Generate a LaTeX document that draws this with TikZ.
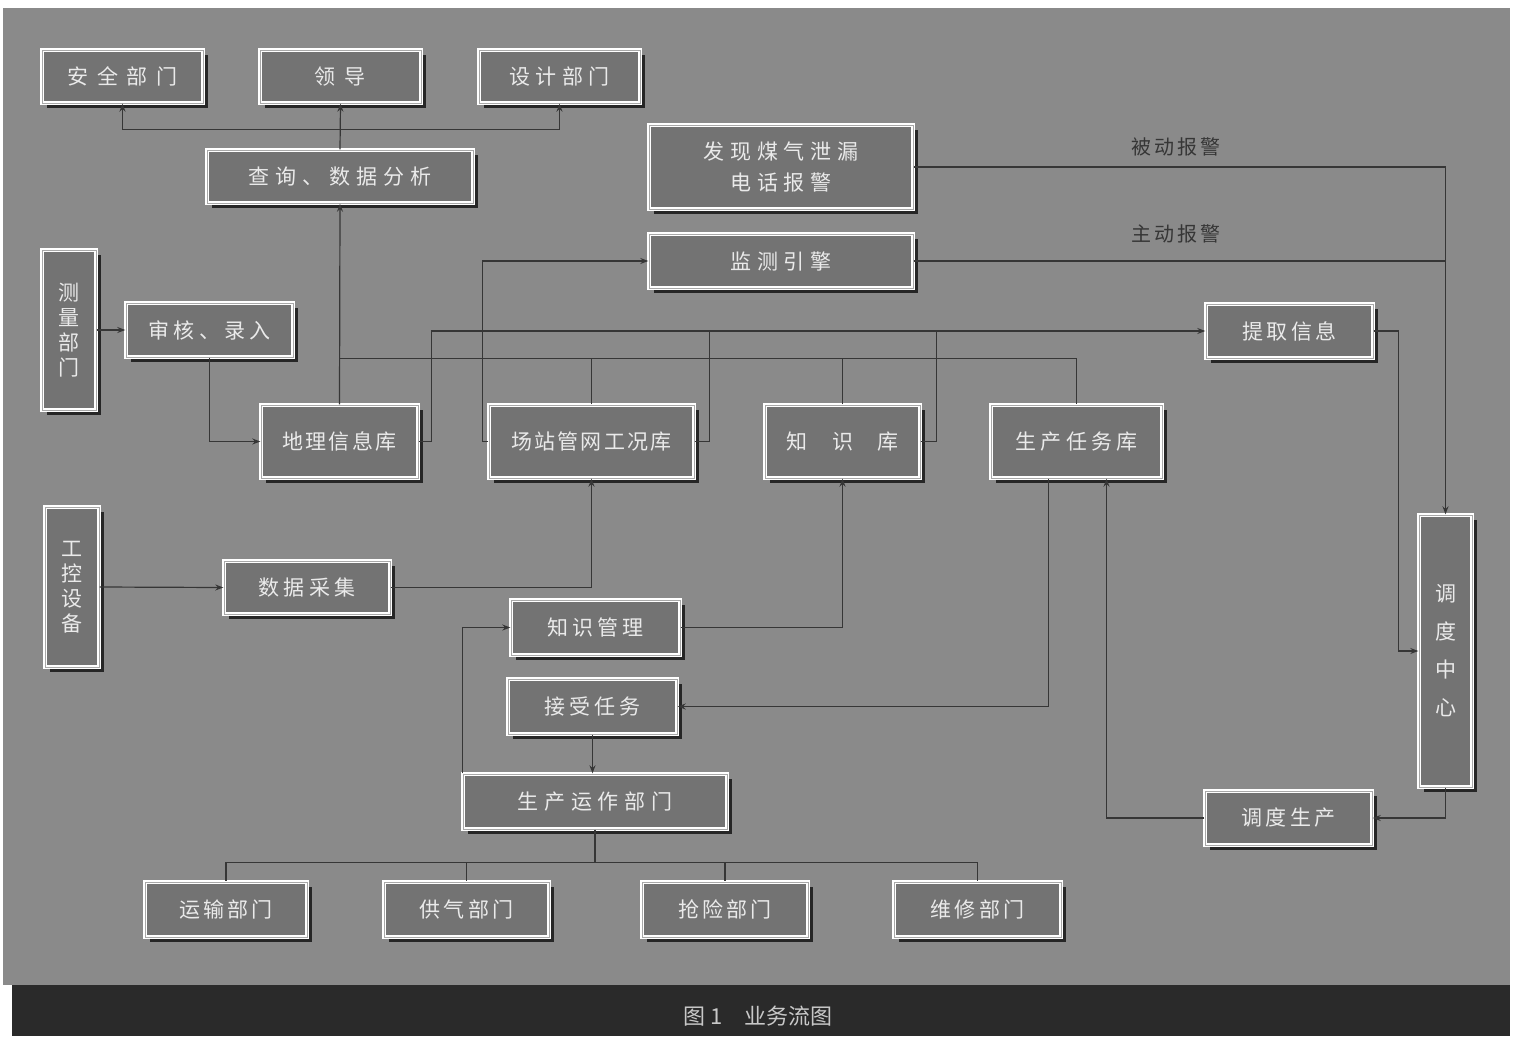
\documentclass[tikz,border=0pt]{standalone}
\usepackage{fontspec}
\newfontfamily\cjk{Noto Sans CJK SC}
\newcommand\ls[1]{\addfontfeature{LetterSpace=#1}}
\usetikzlibrary{arrows.meta,shadows,calc}
\definecolor{bggray}{HTML}{8A8A8A}
\definecolor{boxgray}{HTML}{737373}
\definecolor{boxtext}{HTML}{EAEAEA}
\definecolor{linegray}{HTML}{363636}
\definecolor{bardark}{HTML}{2A2A2A}
\definecolor{captext}{HTML}{C8C8C8}
\definecolor{bevel}{HTML}{A8A8A8}
\tikzset{
  box/.style={draw=white, line width=1.4pt, double=bevel, double distance=0.9pt,
    fill=boxgray, text=boxtext, inner sep=0pt,
    font=\cjk\fontsize{21}{25}\selectfont, align=center,
    drop shadow={shadow xshift=4.5pt, shadow yshift=-4.5pt, fill=black!85, opacity=1}},
  bx/.style 2 args={box, minimum width=#1pt, minimum height=#2pt},
  conn/.style={draw=linegray, line width=1.2pt},
  arr/.style={conn, -{Stealth[length=8pt,width=6pt]}},
  lbl/.style={text=linegray, font=\cjk\fontsize{20}{24}\selectfont, inner sep=0pt}
}
\begin{document}
\begin{tikzpicture}[x=1pt,y=-1pt]
\useasboundingbox (0,0) rectangle (1514,1036);
\fill[white] (0,0) rectangle (1514,1036);
\fill[bggray] (3,8) rectangle (1510,985);
\fill[bardark] (12,985) rectangle (1510,1036);
\node[text=captext, font=\cjk\fontsize{22}{26}\selectfont, inner sep=0pt] (cap) at (758,1016) {图 1\hspace{22pt}业务流图};

% nodes
\node[bx={161}{53}] (safety) at (122.5,76.5) {\ls{40}安全部门};
\node[bx={161}{53}] (leader) at (340.5,76.5) {\ls{43}领导};
\node[bx={161}{53}] (design) at (559.5,76.5) {\ls{24}设计部门};
\node[bx={266}{53}] (query) at (340,176.5) {\ls{28}查询、数据分析};
\node[bx={264}{84}, font=\cjk\fontsize{21}{31}\selectfont] (leak) at (781,167) {\ls{28}发现煤气泄漏\\\ls{28}电话报警};
\node[bx={264}{54}] (monitor) at (781,261) {\ls{28}监测引擎};
\node[bx={54}{160}] (survey) at (69,330) {测\\量\\部\\门};
\node[bx={167}{54}] (audit) at (209.5,330) {\ls{20}审核、录入};
\node[bx={167}{54}] (extract) at (1289.5,331) {\ls{15}提取信息};
\node[bx={157}{73}] (geo) at (339.5,441.5) {\ls{10}地理信息库};
\node[bx={205}{73}] (station) at (591.5,441.5) {\ls{10}场站管网工况库};
\node[bx={155}{73}] (know) at (842.5,441.5) {知\hspace{25pt}识\hspace{25pt}库};
\node[bx={171}{73}] (task) at (1076.5,441.5) {\ls{20}生产任务库};
\node[bx={54}{160}] (ctrl) at (72,587) {工\\控\\设\\备};
\node[bx={166}{53}] (collect) at (307,587.5) {\ls{20}数据采集};
\node[bx={169}{55}] (kmgmt) at (595.5,627.5) {\ls{18}知识管理};
\node[bx={169}{55}] (accept) at (592.5,706.5) {\ls{18}接受任务};
\node[bx={264}{55}] (prodop) at (595,801.5) {\ls{28}生产运作部门};
\node[bx={53}{272}, font=\cjk\fontsize{21}{38}\selectfont] (dispatch) at (1445.5,651) {调\\度\\中\\心};
\node[bx={167}{54}] (dprod) at (1288.5,818) {\ls{15}调度生产};
\node[bx={162}{55}] (transport) at (226,909.5) {\ls{15}运输部门};
\node[bx={165}{55}] (supply) at (466.5,909.5) {\ls{15}供气部门};
\node[bx={166}{55}] (rescue) at (725,909.5) {\ls{15}抢险部门};
\node[bx={167}{55}] (repair) at (977.5,909.5) {\ls{15}维修部门};

\node[lbl] (passive) at (1176,147) {\ls{15}被动报警};
\node[lbl] (active) at (1176,234) {\ls{15}主动报警};

% connectors
\coordinate (qs) at ([yshift=20pt]query.north);
\draw[arr] (query.north) -- (leader.south);
\draw[arr] (qs) -| (safety.south);
\draw[arr] (qs) -| (design.south);
\draw[arr] (geo.north) -- (query.south);
\draw[arr] (survey.east) -- (audit.west);
\draw[arr] (audit.south) |- (geo.west);
\draw[arr] (ctrl.east) -- (collect.west);
\draw[arr] (collect.east) -| (station.south);
\draw[arr] (kmgmt.east) -| (know.south);
\draw[arr] ([xshift=-28pt]task.south) |- (accept.east);
\draw[arr] (accept.south) -- (accept.south |- prodop.north);
\draw[arr] (prodop.north west) |- (kmgmt.west);
\draw[conn] (prodop.south) -- ++(0,33) coordinate (pb);
\draw[conn] (pb) -| (transport.north);
\draw[conn] (pb) -| (repair.north);
\draw[conn] (pb -| supply.north) -- (supply.north);
\draw[conn] (pb -| rescue.north) -- (rescue.north);
\draw[arr] (dprod.west) -| ([xshift=30pt]task.south);
\draw[arr] (dispatch.south) |- (dprod.east);
\draw[arr] (extract.east) -- ++(25,0) |- (dispatch.west);
\draw[arr] (leak.east) -| (dispatch.north);
\draw[conn] (monitor.east) -- (monitor.east -| dispatch.north);
\draw[arr] (geo.east) -- ++(13,0) |- (extract.west);
\draw[conn] (station.east) -- ++(15,0) coordinate (s1) -- (s1 |- extract.west);
\draw[conn] (know.east) -- ++(16,0) coordinate (k1) -- (k1 |- extract.west);
\draw[conn] ([yshift=46pt]geo.north) -| (task.north);
\draw[conn] (station.north) -- ++(0,-46);
\draw[conn] (know.north) -- ++(0,-46);
\draw[arr] (station.west) -- ++(-6,0) |- (monitor.west);
\end{tikzpicture}
\end{document}
